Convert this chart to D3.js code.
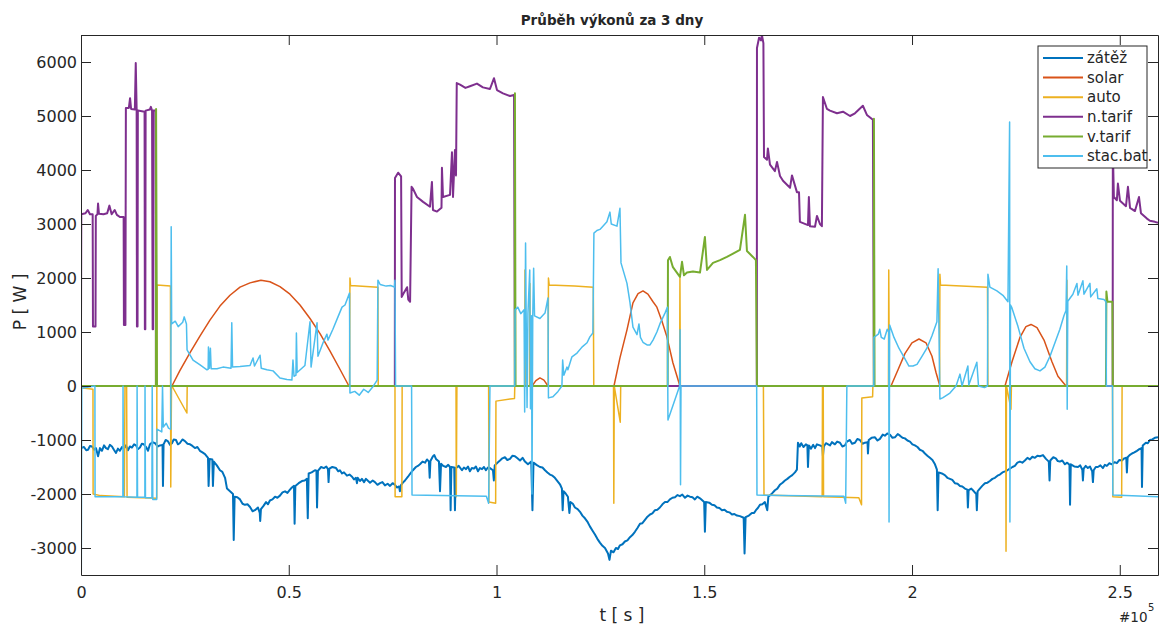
<!DOCTYPE html>
<html>
<head>
<meta charset="utf-8">
<script src="https://cdn.jsdelivr.net/npm/d3@7"></script>
<style>
  body { margin: 0; background: #fff; }
  text { font-family: "DejaVu Sans", sans-serif; fill: #262626; }
</style>
</head>
<body>
<svg id="chart" width="1160" height="626"></svg>
<script>
// Power flows over three days. Each series: [time in hours, power in W].
const zatez = [[0,-1150],[0.2,-1130],[0.35,-1190],[0.47,-1180],[0.6,-1110],[0.74,-1120],[0.88,-1180],[1.0,-1150],[1.14,-1300],[1.27,-1150],[1.4,-1200],[1.54,-1100],[1.67,-1150],[1.8,-1170],[1.93,-1090],[2.07,-1120],[2.2,-1180],[2.34,-1240],[2.47,-1160],[2.6,-1200],[2.74,-1130],[2.87,-1160],[3.0,-1100],[3.14,-1190],[3.27,-1120],[3.4,-1140],[3.55,-1080],[3.68,-1100],[3.8,-1170],[3.94,-1140],[4.07,-1070],[4.2,-1080],[4.35,-1130],[4.48,-1200],[4.61,-1080],[4.78,-1040],[4.95,-1060],[5.12,-1120],[5.28,-1100],[5.45,-1090],[5.48,-1850],[5.52,-1080],[5.66,-1000],[5.8,-1020],[5.95,-1090],[6.08,-1060],[6.2,-990],[6.35,-1000],[6.48,-1080],[6.6,-1060],[6.78,-990],[6.95,-1020],[7.12,-1070],[7.29,-1080],[7.45,-1110],[7.62,-1150],[7.78,-1130],[7.95,-1200],[8.12,-1230],[8.29,-1260],[8.49,-1330],[8.53,-1850],[8.6,-1350],[8.78,-1360],[8.82,-1850],[8.88,-1400],[9.08,-1470],[9.29,-1560],[9.45,-1590],[9.63,-1700],[9.76,-1900],[9.96,-1950],[10.16,-2000],[10.21,-2850],[10.27,-2050],[10.45,-2060],[10.63,-2100],[10.8,-2180],[10.96,-2200],[11.13,-2190],[11.3,-2240],[11.47,-2320],[11.63,-2300],[11.83,-2250],[11.95,-2350],[11.98,-2500],[12.03,-2280],[12.2,-2220],[12.37,-2150],[12.5,-2190],[12.63,-2120],[12.8,-2100],[12.97,-2050],[13.13,-2070],[13.3,-2030],[13.47,-1970],[13.64,-1950],[13.8,-1980],[13.97,-1920],[14.1,-1880],[14.24,-1850],[14.28,-2550],[14.33,-1850],[14.55,-1800],[14.77,-1760],[14.95,-1750],[15.1,-1720],[15.16,-2450],[15.22,-1620],[15.42,-1600],[15.64,-1560],[15.74,-1570],[15.78,-2250],[15.84,-1570],[16.05,-1500],[16.24,-1520],[16.4,-1490],[16.51,-1540],[16.55,-1780],[16.6,-1530],[16.8,-1500],[17.05,-1520],[17.2,-1580],[17.31,-1560],[17.45,-1620],[17.58,-1600],[17.78,-1660],[17.95,-1640],[18.12,-1680],[18.25,-1730],[18.38,-1700],[18.45,-1800],[18.5,-1700],[18.65,-1760],[18.78,-1720],[18.92,-1780],[19.05,-1720],[19.2,-1760],[19.32,-1790],[19.5,-1750],[19.65,-1780],[19.82,-1830],[19.99,-1800],[20.15,-1780],[20.32,-1840],[20.5,-1810],[20.66,-1850],[20.83,-1800],[20.99,-1830],[21.12,-1880],[21.26,-1860],[21.32,-1950],[21.38,-1840],[21.52,-1790],[21.66,-1750],[21.86,-1680],[21.99,-1630],[22.19,-1560],[22.39,-1500],[22.52,-1480],[22.66,-1450],[22.83,-1400],[23.0,-1420],[23.13,-1360],[23.26,-1400],[23.31,-1700],[23.36,-1390],[23.53,-1300],[23.62,-1280],[23.73,-1350],[23.93,-1400],[24.0,-1950],[24.07,-1440],[24.22,-1480],[24.4,-1500],[24.55,-1460],[24.67,-1500],[24.71,-2300],[24.76,-1500],[24.95,-1510],[25.0,-2300],[25.06,-1520],[25.25,-1480],[25.47,-1560],[25.6,-1510],[25.74,-1540],[25.87,-1490],[26.0,-1580],[26.13,-1520],[26.27,-1530],[26.4,-1490],[26.54,-1580],[26.67,-1520],[26.81,-1540],[26.94,-1500],[27.07,-1560],[27.2,-1510],[27.34,-1520],[27.54,-1560],[27.6,-1750],[27.66,-1470],[27.84,-1420],[28.01,-1380],[28.17,-1340],[28.34,-1320],[28.5,-1370],[28.68,-1350],[28.85,-1290],[29.01,-1300],[29.18,-1340],[29.35,-1380],[29.52,-1330],[29.68,-1400],[29.88,-1450],[30.1,-1400],[30.18,-2300],[30.25,-1420],[30.45,-1460],[30.68,-1500],[30.85,-1510],[31.02,-1560],[31.18,-1600],[31.35,-1640],[31.52,-1660],[31.68,-1700],[31.85,-1760],[32.02,-1820],[32.15,-1900],[32.2,-2300],[32.26,-1950],[32.4,-1990],[32.55,-2050],[32.65,-2350],[32.72,-2150],[32.88,-2180],[33.02,-2250],[33.2,-2280],[33.36,-2330],[33.52,-2400],[33.69,-2450],[33.85,-2510],[34.02,-2600],[34.2,-2680],[34.36,-2750],[34.52,-2830],[34.69,-2900],[34.86,-2960],[35.03,-3000],[35.23,-3100],[35.33,-3220],[35.43,-3050],[35.6,-3080],[35.76,-3000],[35.9,-3020],[36.03,-2950],[36.2,-2930],[36.36,-2880],[36.53,-2860],[36.7,-2800],[36.86,-2760],[37.03,-2700],[37.2,-2630],[37.37,-2550],[37.53,-2540],[37.7,-2480],[37.87,-2420],[38.04,-2380],[38.2,-2360],[38.37,-2300],[38.53,-2290],[38.7,-2250],[38.87,-2190],[39.04,-2150],[39.2,-2150],[39.37,-2100],[39.54,-2070],[39.71,-2060],[39.88,-2020],[40.04,-2040],[40.2,-2010],[40.38,-2070],[40.55,-2030],[40.71,-2050],[40.88,-2060],[41.04,-2100],[41.2,-2050],[41.38,-2080],[41.66,-2150],[41.71,-2700],[41.77,-2150],[42.0,-2160],[42.18,-2200],[42.35,-2210],[42.51,-2250],[42.68,-2260],[42.85,-2300],[43.02,-2290],[43.18,-2330],[43.35,-2340],[43.52,-2380],[43.68,-2370],[43.85,-2400],[44.05,-2410],[44.3,-2440],[44.36,-3100],[44.43,-2430],[44.65,-2400],[44.85,-2350],[45.0,-2350],[45.12,-2300],[45.25,-2260],[45.39,-2200],[45.55,-2190],[45.72,-2150],[45.88,-2300],[45.95,-2050],[46.2,-1990],[46.39,-1930],[46.55,-1900],[46.72,-1830],[46.9,-1790],[47.06,-1750],[47.22,-1720],[47.39,-1680],[47.55,-1650],[47.73,-1600],[47.86,-1550],[47.93,-1050],[48.05,-1120],[48.15,-1060],[48.3,-1130],[48.46,-1080],[48.56,-1100],[48.6,-1500],[48.66,-1100],[48.8,-1160],[48.95,-1090],[49.07,-1150],[49.2,-1080],[49.4,-1100],[49.56,-1120],[49.6,-1300],[49.66,-1120],[49.8,-1060],[50.07,-1100],[50.2,-1040],[50.4,-1080],[50.55,-1030],[50.74,-1050],[50.9,-1120],[51.07,-1100],[51.2,-1030],[51.4,-1000],[51.55,-1070],[51.74,-1050],[51.9,-980],[52.07,-1000],[52.25,-1070],[52.41,-1050],[52.58,-1040],[52.61,-1250],[52.66,-1000],[52.85,-960],[53.08,-950],[53.25,-1010],[53.41,-980],[53.6,-900],[53.74,-920],[53.9,-880],[54.08,-900],[54.25,-960],[54.41,-950],[54.6,-890],[54.75,-920],[54.92,-960],[55.08,-970],[55.25,-1010],[55.42,-1030],[55.58,-1080],[55.75,-1100],[55.92,-1130],[56.08,-1180],[56.25,-1200],[56.42,-1250],[56.58,-1290],[56.75,-1330],[56.92,-1370],[57.09,-1450],[57.22,-1550],[57.27,-2300],[57.33,-1600],[57.55,-1620],[57.75,-1650],[57.92,-1700],[58.09,-1720],[58.25,-1740],[58.42,-1800],[58.6,-1810],[58.76,-1850],[58.92,-1860],[59.09,-1900],[59.25,-1920],[59.29,-2250],[59.34,-1930],[59.52,-1900],[59.69,-1950],[59.85,-2000],[59.89,-2300],[59.94,-1950],[60.09,-1900],[60.25,-1850],[60.43,-1800],[60.6,-1790],[60.76,-1760],[60.93,-1720],[61.1,-1700],[61.27,-1660],[61.43,-1640],[61.6,-1600],[61.77,-1580],[61.93,-1560],[62.1,-1530],[62.27,-1500],[62.43,-1480],[62.6,-1420],[62.77,-1400],[62.93,-1420],[63.1,-1380],[63.27,-1330],[63.44,-1360],[63.6,-1310],[63.77,-1330],[63.94,-1290],[64.11,-1300],[64.31,-1280],[64.51,-1350],[64.7,-1400],[64.75,-1750],[64.8,-1380],[65.0,-1320],[65.17,-1340],[65.3,-1390],[65.44,-1400],[65.6,-1380],[65.78,-1450],[65.93,-1420],[66.08,-1460],[66.12,-2200],[66.17,-1450],[66.4,-1490],[66.65,-1500],[66.8,-1470],[66.94,-1550],[66.98,-1750],[67.03,-1530],[67.17,-1480],[67.31,-1520],[67.45,-1490],[67.6,-1580],[67.65,-1780],[67.7,-1560],[67.84,-1500],[67.98,-1500],[68.15,-1470],[68.32,-1520],[68.45,-1460],[68.58,-1480],[68.75,-1430],[68.92,-1450],[69.1,-1410],[69.25,-1430],[69.42,-1370],[69.59,-1380],[69.75,-1340],[69.88,-1330],[69.92,-1600],[69.97,-1320],[70.1,-1280],[70.26,-1250],[70.42,-1230],[70.59,-1200],[70.75,-1170],[70.9,-1150],[70.93,-1870],[70.98,-1100],[71.19,-1050],[71.32,-1060],[71.46,-1000],[71.62,-990],[71.79,-960],[72,-950]];

const solar = [[0,0],[6.08,0],[6.6,280],[7.29,620],[7.96,930],[8.62,1220],[9.29,1480],[9.96,1680],[10.63,1830],[11.3,1910],[12.03,1960],[12.63,1930],[13.3,1840],[13.97,1700],[14.64,1500],[15.31,1250],[15.98,970],[16.64,650],[17.31,310],[17.91,0],[30.15,0],[30.41,100],[30.68,150],[30.95,110],[31.22,0],[35.63,0],[36.03,520],[36.5,1040],[36.9,1540],[37.24,1710],[37.57,1760],[37.9,1700],[38.24,1560],[38.5,1460],[38.84,1200],[39.17,910],[39.57,430],[40.04,0],[54.15,0],[54.62,300],[55.08,600],[55.55,800],[56.02,870],[56.49,800],[56.89,550],[57.16,250],[57.42,0],[61.77,0],[62.24,450],[62.77,900],[63.17,1100],[63.51,1140],[63.91,1080],[64.38,850],[64.91,450],[65.31,180],[65.85,0],[72,0]];

const auto = [[0,-30],[0.8,-60],[0.81,-2000],[1.3,-2030],[2.9,-2050],[2.94,0],[3.05,0],[3.08,-2060],[5.06,-2080],[5.08,1870],[5.98,1850],[6.0,-1870],[6.05,0],[6.08,0],[7.08,-500],[7.1,0],[17.95,0],[17.98,2000],[18.02,1860],[19.85,1830],[19.87,0],[20.99,0],[21.0,-2050],[21.45,-2050],[21.47,0],[25.07,0],[25.09,-2050],[25.13,0],[27.25,0],[27.27,-2150],[27.72,-2170],[27.74,-280],[28.98,-230],[29.0,0],[29.66,0],[29.68,2150],[29.72,0],[29.99,0],[30.01,1900],[30.05,0],[31.23,0],[31.25,2000],[31.3,1870],[33.0,1850],[34.25,1830],[34.28,0],[35.6,0],[35.62,-2170],[35.65,0],[36.05,-670],[36.08,0],[40.02,0],[40.04,2000],[40.07,0],[45.62,0],[45.66,-2020],[49.55,-2050],[49.57,0],[49.62,0],[49.64,-2050],[52.0,-2070],[52.18,-2200],[52.2,-220],[52.92,-200],[52.94,0],[53.98,0],[54.0,2150],[54.04,0],[57.4,0],[57.42,2070],[57.46,1870],[60.6,1830],[60.63,0],[61.82,0],[61.84,-3060],[61.87,0],[62.17,-430],[62.2,0],[65.89,0],[65.91,1960],[65.94,0],[68.96,0],[68.98,-2050],[69.57,-2060],[69.6,0],[72,0]];

const nTarif = [[0,1150],[0.02,3180],[0.3,3200],[0.45,3260],[0.6,3180],[0.78,3180],[0.8,1100],[0.97,1100],[0.99,3150],[1.1,3180],[1.14,3380],[1.2,3190],[1.5,3180],[1.75,3200],[1.9,3340],[2.05,3180],[2.25,3260],[2.4,3170],[2.6,3130],[2.85,3130],[2.87,1130],[2.97,1130],[3.0,5150],[3.2,5150],[3.28,5330],[3.35,5130],[3.6,5120],[3.66,5980],[3.72,5120],[3.74,1100],[3.78,1100],[3.8,5100],[4.25,5080],[4.27,1050],[4.3,1050],[4.32,5100],[4.6,5120],[4.67,5170],[4.75,5100],[4.79,1050],[4.82,1050],[4.84,5100],[4.99,5100],[5.01,0],[20.98,0],[20.99,3850],[21.2,3950],[21.4,3880],[21.44,1650],[21.53,1700],[21.8,1830],[21.88,1600],[22.0,1560],[22.1,3690],[22.2,3650],[22.46,3500],[22.87,3410],[23.33,3320],[23.46,3780],[23.53,3260],[23.8,3230],[24.1,3300],[24.13,4040],[24.2,3500],[24.67,3540],[24.8,4330],[24.87,3500],[25.0,4370],[25.07,3900],[25.12,5610],[25.34,5580],[25.7,5520],[26.0,5550],[26.47,5600],[26.87,5530],[27.34,5500],[27.61,5700],[27.81,5480],[28.21,5420],[28.68,5370],[28.95,5390],[29.01,0],[45.18,0],[45.19,6260],[45.33,6450],[45.46,6400],[45.52,6500],[45.62,6350],[45.66,4240],[45.86,4190],[45.92,4400],[46.06,4100],[46.39,3980],[46.53,4150],[46.73,3890],[46.93,3800],[47.4,3670],[47.53,3900],[47.86,3590],[48.0,3590],[48.06,3040],[48.6,2980],[48.66,3500],[48.73,2960],[49.07,2950],[49.2,3150],[49.4,3000],[49.53,2960],[49.6,5350],[49.87,5130],[50.07,5100],[50.54,5050],[50.94,5080],[51.41,5000],[51.74,5050],[52.27,5190],[52.54,5020],[52.94,4930],[53.01,0],[68.97,0],[68.98,4400],[69.05,3500],[69.25,3440],[69.32,3750],[69.46,3430],[69.86,3330],[69.99,3690],[70.13,3300],[70.46,3240],[70.73,3500],[70.86,3200],[71.26,3100],[71.46,3060],[71.79,3040],[72,3020]];

const vTarif = [[0,0],[5.01,0],[5.02,5130],[5.08,0],[29.0,0],[29.01,5420],[29.05,0],[39.22,0],[39.24,2330],[39.37,2390],[39.57,2200],[40.04,2020],[40.18,2300],[40.31,2050],[40.51,2100],[40.91,2120],[41.38,2100],[41.71,2760],[41.85,2150],[42.25,2280],[42.72,2330],[43.18,2390],[43.59,2450],[44.05,2520],[44.39,3170],[44.52,2500],[44.92,2390],[45.12,2330],[45.19,0],[53.0,0],[53.01,4950],[53.05,0],[68.52,0],[68.55,1750],[68.62,1560],[68.95,1560],[68.98,0],[72,0]];

const stacBat = [[0,3540],[0.02,-3440],[0.05,-40],[0.5,-20],[0.93,0],[0.94,-2050],[2.8,-2050],[2.81,0],[2.84,-2050],[3.74,-2060],[3.75,0],[3.78,-2060],[4.27,-2060],[4.28,0],[4.31,-2070],[4.74,-2070],[4.76,0],[4.8,-2100],[5.06,-2100],[5.08,-800],[5.4,-850],[5.45,0],[5.5,-760],[5.7,-690],[5.85,-780],[6.0,-800],[6.03,2950],[6.06,1150],[6.3,1200],[6.5,1100],[6.8,1180],[6.9,1280],[7.05,1150],[7.09,670],[7.49,480],[7.96,390],[8.42,300],[8.5,310],[8.52,720],[8.58,330],[8.65,700],[8.7,320],[9.09,320],[9.49,350],[10.03,330],[10.08,1170],[10.13,350],[10.63,360],[11.3,380],[11.5,520],[11.6,370],[11.97,570],[12.05,330],[12.43,300],[12.84,280],[13.3,150],[13.77,120],[14.1,110],[14.17,480],[14.24,180],[14.37,200],[14.4,980],[14.45,250],[14.97,380],[15.31,1190],[15.38,350],[15.78,1170],[15.84,550],[16.18,800],[16.44,960],[16.51,850],[16.84,1050],[17.18,1280],[17.45,1460],[17.65,1500],[17.95,1720],[17.98,-130],[18.3,-100],[18.6,-170],[18.9,-60],[19.2,-120],[19.5,-20],[19.8,110],[19.85,1960],[20.0,1880],[20.4,1850],[20.7,1860],[20.95,1830],[20.99,1960],[21.03,0],[22.1,0],[22.13,-2020],[27.1,-2040],[27.25,-2170],[27.34,0],[29.0,0],[29.02,1410],[29.2,1460],[29.4,1340],[29.62,1410],[29.66,-480],[29.72,2650],[29.76,1300],[29.82,-400],[29.88,1350],[30.0,2150],[30.05,-420],[30.12,1300],[30.15,-2000],[30.2,1280],[30.26,2180],[30.32,1300],[30.68,1250],[31.02,1350],[31.22,1630],[31.25,-220],[31.55,-200],[31.89,-100],[32.15,0],[32.2,480],[32.28,200],[32.49,350],[32.55,300],[32.82,540],[33.16,610],[33.49,720],[33.83,800],[34.02,910],[34.22,980],[34.29,2830],[34.49,2880],[34.69,2900],[34.89,2960],[35.16,3040],[35.36,3220],[35.45,3000],[35.83,2960],[36.03,3290],[36.1,2280],[36.5,1900],[36.7,1550],[36.9,1090],[37.17,950],[37.3,1150],[37.4,900],[37.57,810],[37.84,760],[38.04,760],[38.24,850],[38.5,1000],[38.7,1150],[39.04,1350],[39.2,1460],[39.24,-630],[40.02,0],[40.05,1040],[40.08,-1830],[40.11,0],[45.17,0],[45.19,-2020],[51.0,-2040],[51.12,-2170],[51.2,0],[53.0,0],[53.01,900],[53.3,960],[53.4,1050],[53.5,900],[53.7,870],[53.9,1050],[54.0,1000],[54.02,-2520],[54.06,1130],[54.35,900],[54.68,700],[55.01,540],[55.35,370],[55.62,370],[55.89,400],[56.22,550],[56.55,700],[56.89,930],[57.22,1190],[57.3,2170],[57.42,-240],[57.6,-220],[58.09,-130],[58.5,0],[58.76,220],[58.9,0],[59.29,370],[59.35,20],[59.89,440],[60.0,0],[60.4,-30],[60.6,0],[60.63,2070],[60.76,1830],[61.23,1760],[61.63,1680],[61.97,1560],[62.08,4890],[62.1,-2520],[62.14,1500],[62.23,1450],[62.64,1100],[63.04,700],[63.44,450],[63.77,320],[64.11,280],[64.44,350],[64.78,550],[65.11,800],[65.44,1050],[65.71,1300],[65.85,1400],[65.9,2220],[65.93,-430],[65.97,1570],[66.31,1700],[66.58,1900],[66.65,1680],[66.98,1950],[67.05,1700],[67.45,1900],[67.5,1650],[67.91,1800],[67.98,1620],[68.39,1600],[68.52,1560],[68.55,0],[68.96,0],[68.98,-2020],[72,-2050]];

const seriesNames = ["zátěž", "solar", "auto", "n.tarif", "v.tarif", "stac.bat."];
const seriesColors = ["#0072BD", "#D95319", "#EDB120", "#7E2F8E", "#77AC30", "#4DBEEE"];
const seriesWidths = [2, 1.5, 1.5, 2, 2, 1.5];
const seriesData = [zatez, solar, auto, nTarif, vTarif, stacBat];

const yTicks = [-3000, -2000, -1000, 0, 1000, 2000, 3000, 4000, 5000, 6000];
const xTicks = [0, 50000, 100000, 150000, 200000, 250000];

const svg = d3.select("#chart");
const plotLeft = 81, plotRight = 1158, plotTop = 35, plotBottom = 575;

const x = d3.scaleLinear().domain([0, 259200]).range([plotLeft, plotRight]);
const y = d3.scaleLinear().domain([-3500, 6500]).range([plotBottom, plotTop]);

svg.append("rect").attr("width", 1160).attr("height", 626).attr("fill", "#fff");

svg.append("defs").append("clipPath").attr("id", "plotClip")
  .append("rect").attr("x", plotLeft).attr("y", plotTop)
  .attr("width", plotRight - plotLeft).attr("height", plotBottom - plotTop);

// series lines
const line = d3.line().x(d => x(d[0] * 3600)).y(d => y(d[1]));
const plot = svg.append("g").attr("clip-path", "url(#plotClip)");
seriesData.forEach((data, i) => {
  plot.append("path")
    .datum(data)
    .attr("d", line)
    .attr("fill", "none")
    .attr("stroke", seriesColors[i])
    .attr("stroke-width", seriesWidths[i])
    .attr("stroke-linejoin", "round");
});

// axes box with inward ticks
const axisColor = "#262626";
function styleAxis(g, hideLabels) {
  g.select(".domain").attr("stroke", axisColor).attr("stroke-width", 1);
  g.selectAll(".tick line").attr("stroke", axisColor).attr("stroke-width", 1);
  g.selectAll(".tick text").attr("fill", axisColor)
    .style("font-family", "'DejaVu Sans', sans-serif").style("font-size", "16px");
  if (hideLabels) g.selectAll(".tick text").remove();
}

svg.append("g").attr("transform", `translate(0,${plotBottom})`)
  .call(d3.axisBottom(x).tickValues(xTicks).tickSizeInner(-10).tickSizeOuter(0)
    .tickPadding(12).tickFormat(d => String(d / 1e5)))
  .call(g => styleAxis(g, false));
svg.append("g").attr("transform", `translate(0,${plotTop})`)
  .call(d3.axisTop(x).tickValues(xTicks).tickSizeInner(-10).tickSizeOuter(0))
  .call(g => styleAxis(g, true));
svg.append("g").attr("transform", `translate(${plotLeft},0)`)
  .call(d3.axisLeft(y).tickValues(yTicks).tickSizeInner(-10).tickSizeOuter(0)
    .tickPadding(4).tickFormat(d => String(d)))
  .call(g => styleAxis(g, false));
svg.append("g").attr("transform", `translate(${plotRight},0)`)
  .call(d3.axisRight(y).tickValues(yTicks).tickSizeInner(-10).tickSizeOuter(0))
  .call(g => styleAxis(g, true));

// title and axis labels
svg.append("text").attr("x", 612).attr("y", 25).attr("text-anchor", "middle")
  .style("font-size", "13.5px").style("font-weight", "bold")
  .text("Průběh výkonů za 3 dny");
svg.append("text").attr("x", 622).attr("y", 621).attr("text-anchor", "middle")
  .style("font-size", "17px").text("t [ s ]");
svg.append("text").attr("transform", "translate(26,302) rotate(-90)")
  .attr("text-anchor", "middle").style("font-size", "17px").text("P [ W ]");

// exponent of the x axis
svg.append("text").attr("x", 1119).attr("y", 622).style("font-size", "13.5px").text("#10");
svg.append("text").attr("x", 1148).attr("y", 611).style("font-size", "10px").text("5");

// legend
const lg = svg.append("g");
lg.append("rect").attr("x", 1038).attr("y", 46).attr("width", 109).attr("height", 122)
  .attr("fill", "#fff").attr("stroke", axisColor).attr("stroke-width", 1);
seriesNames.forEach((name, i) => {
  const yy = 58 + i * 19.6;
  lg.append("line").attr("x1", 1043).attr("x2", 1083).attr("y1", yy).attr("y2", yy)
    .attr("stroke", seriesColors[i]).attr("stroke-width", 2);
  lg.append("text").attr("x", 1087).attr("y", yy).attr("dy", "0.35em")
    .style("font-size", "15px").text(name);
});
</script>
</body>
</html>
